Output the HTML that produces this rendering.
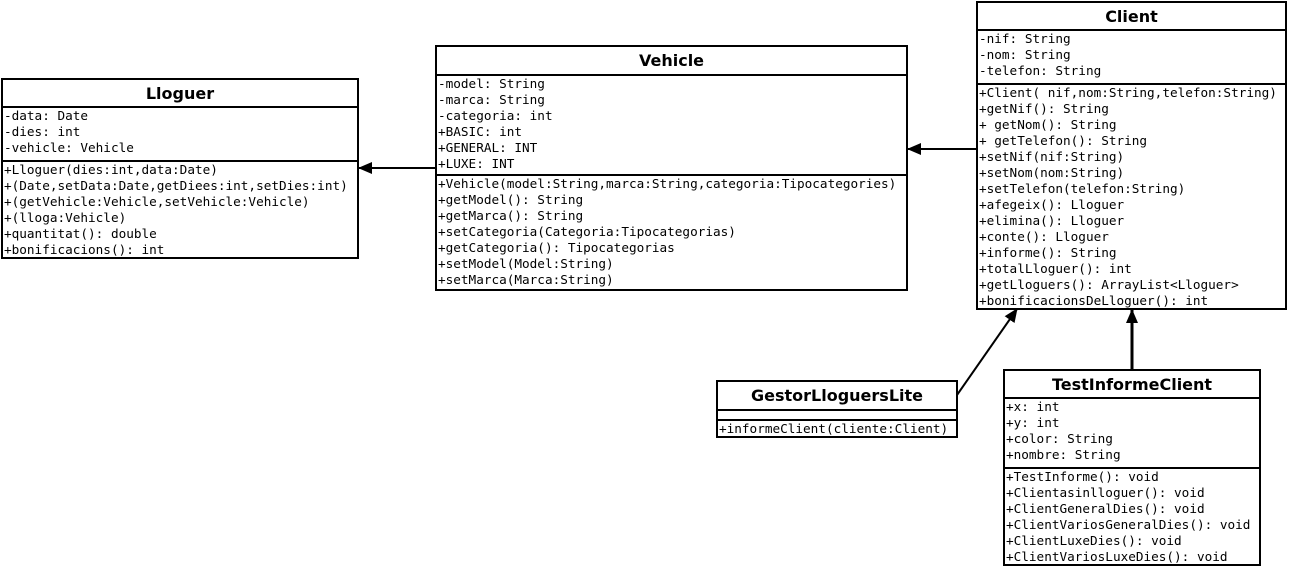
<!DOCTYPE html>
<html><head><meta charset="utf-8"><style>
body{margin:0;width:1289px;height:567px;background:#fff;position:relative;overflow:hidden}
.b{position:absolute;border:2px solid #000;box-sizing:border-box;background:#fff}
.t{font:bold 16px "DejaVu Sans","Liberation Sans",sans-serif;text-align:center;border-bottom:2px solid #000;box-sizing:border-box;display:flex;align-items:center;justify-content:center}
.s{font:12.7px "DejaVu Sans Mono","Liberation Mono",monospace;line-height:16px;padding-left:1px;white-space:pre;box-sizing:border-box}
.s+.s{border-top:2px solid #000}
svg{position:absolute;left:0;top:0}
</style></head><body>
<svg width="1289" height="567">
<defs><marker id="a" markerWidth="14" markerHeight="12" refX="13" refY="6" orient="auto" markerUnits="userSpaceOnUse"><path d="M0,0L14,6L0,12z" fill="#000"/></marker></defs>
<line x1="435" y1="168" x2="359" y2="168" stroke="#000" stroke-width="2" marker-end="url(#a)"/>
<line x1="976" y1="149" x2="908" y2="149" stroke="#000" stroke-width="2" marker-end="url(#a)"/>
<line x1="957" y1="395" x2="1017" y2="309" stroke="#000" stroke-width="2" marker-end="url(#a)"/>
<line x1="1132" y1="369" x2="1132" y2="310" stroke="#000" stroke-width="3" marker-end="url(#a)"/>
</svg>
<div class="b" style="left:1px;top:78px;width:358px;height:181px">
<div class="t" style="height:28px">Lloguer</div>
<div class="s" style="height:52px">-data: Date
-dies: int
-vehicle: Vehicle</div>
<div class="s">+Lloguer(dies:int,data:Date)
+(Date,setData:Date,getDiees:int,setDies:int)
+(getVehicle:Vehicle,setVehicle:Vehicle)
+(lloga:Vehicle)
+quantitat(): double
+bonificacions(): int</div>
</div>
<div class="b" style="left:435px;top:45px;width:473px;height:246px">
<div class="t" style="height:29px">Vehicle</div>
<div class="s" style="height:98px">-model: String
-marca: String
-categoria: int
+BASIC: int
+GENERAL: INT
+LUXE: INT</div>
<div class="s">+Vehicle(model:String,marca:String,categoria:Tipocategories)
+getModel(): String
+getMarca(): String
+setCategoria(Categoria:Tipocategorias)
+getCategoria(): Tipocategorias
+setModel(Model:String)
+setMarca(Marca:String)</div>
</div>
<div class="b" style="left:976px;top:1px;width:311px;height:309px">
<div class="t" style="height:28px">Client</div>
<div class="s" style="height:52px">-nif: String
-nom: String
-telefon: String</div>
<div class="s">+Client( nif,nom:String,telefon:String)
+getNif(): String
+ getNom(): String
+ getTelefon(): String
+setNif(nif:String)
+setNom(nom:String)
+setTelefon(telefon:String)
+afegeix(): Lloguer
+elimina(): Lloguer
+conte(): Lloguer
+informe(): String
+totalLloguer(): int
+getLloguers(): ArrayList&lt;Lloguer&gt;
+bonificacionsDeLloguer(): int</div>
</div>
<div class="b" style="left:716px;top:380px;width:242px;height:58px">
<div class="t" style="height:29px">GestorLloguersLite</div>
<div class="s" style="height:8px"></div>
<div class="s">+informeClient(cliente:Client)</div>
</div>
<div class="b" style="left:1003px;top:369px;width:258px;height:197px">
<div class="t" style="height:28px">TestInformeClient</div>
<div class="s" style="height:68px">+x: int
+y: int
+color: String
+nombre: String</div>
<div class="s">+TestInforme(): void
+Clientasinlloguer(): void
+ClientGeneralDies(): void
+ClientVariosGeneralDies(): void
+ClientLuxeDies(): void
+ClientVariosLuxeDies(): void</div>
</div>
</body></html>
